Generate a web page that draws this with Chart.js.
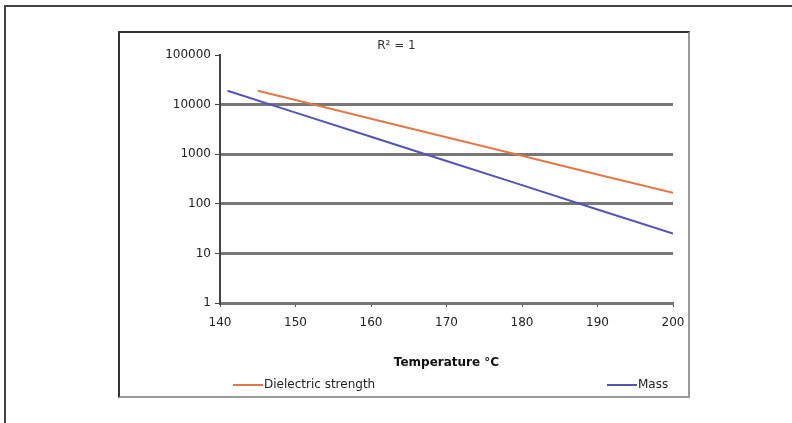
<!DOCTYPE html>
<html>
<head>
<meta charset="utf-8">
<script src="https://cdn.jsdelivr.net/npm/chart.js@4"></script>
<style>
  html, body { margin: 0; padding: 0; background: #fff; }
  body { width: 792px; height: 423px; position: relative; overflow: hidden; font-family: "DejaVu Sans", sans-serif; }
  #frame { position: absolute; left: 4px; top: 5px; right: 0; bottom: 0; border-top: 2px solid #444; border-left: 2px solid #444; }
  #box { position: absolute; left: 118px; top: 31px; width: 572px; height: 367px; box-sizing: border-box;
         border-top: 2px solid #333; border-left: 2px solid #333; border-right: 2px solid #999; border-bottom: 2px solid #999; }
  #holder { position: absolute; left: 0; top: 0; width: 568px; height: 363px; }
  .leg { position: absolute; top: 344px; font-size: 12px; color: #222; white-space: nowrap; }
  .leg i { display: inline-block; width: 30px; height: 2px; vertical-align: middle; margin-right: 1px; }
</style>
</head>
<body>
<div id="frame"></div>
<div id="box">
  <div id="holder"><canvas id="lineChart"></canvas></div>
  <div class="leg" style="left:113px"><i style="background:#e07848"></i>Dielectric strength</div>
  <div class="leg" style="left:487px"><i style="background:#5454b4"></i>Mass</div>
</div>
<script>
var tempDielectric = [145, 150, 160, 170, 180, 190, 200];
var dielectric = [19000, 12400, 5200, 2200, 930, 390, 166];
var tempMass = [141, 150, 160, 170, 180, 190, 200];
var mass = [19000, 6900, 2250, 730, 238, 77, 25];
var yTicks = [1, 10, 100, 1000, 10000, 100000];
var xTicks = [140, 150, 160, 170, 180, 190, 200];

function toPoints(xs, ys) {
    return xs.map(function (x, i) { return { x: x, y: ys[i] }; });
}

Chart.defaults.font.family = '"DejaVu Sans", sans-serif';
Chart.defaults.font.size = 12;
Chart.defaults.color = '#222';

var ctx = document.getElementById("lineChart");
var lineChart = new Chart(ctx, {
    type: 'scatter',
    data: {
        datasets: [{
            label: 'Dielectric strength',
            data: toPoints(tempDielectric, dielectric),
            showLine: true,
            borderColor: '#e07848',
            borderWidth: 2,
            pointRadius: 0,
            tension: 0,
        }, {
            label: 'Mass',
            data: toPoints(tempMass, mass),
            showLine: true,
            borderColor: '#5454b4',
            borderWidth: 2,
            pointRadius: 0,
            tension: 0,
        }],
    },
    options: {
        responsive: true,
        maintainAspectRatio: false,
        animation: false,
        layout: {
            padding: { left: 0, right: 15, top: 0, bottom: 23 }
        },
        plugins: {
            legend: { display: false },
            tooltip: { enabled: false },
            title: {
                display: true,
                text: 'R² = 1',
                color: '#333',
                font: { size: 12, weight: 'normal' },
                padding: { top: 6, bottom: 1.6 },
            },
        },
        scales: {
            x: {
                type: 'linear',
                min: 140,
                max: 200,
                afterBuildTicks: function (s) { s.ticks = xTicks.map(function (v) { return { value: v }; }); },
                afterFit: function (s) { s.height = 70; s.paddingLeft = 0; s.paddingRight = 0; },
                ticks: { padding: 9, color: '#222' },
                grid: { drawOnChartArea: false, tickLength: 4, tickColor: '#555', tickWidth: 1 },
                border: { color: '#777', width: 3 },
                title: {
                    display: true,
                    text: 'Temperature °C',
                    color: '#111',
                    font: { size: 12, weight: 'bold' },
                    padding: { top: 0, bottom: 3 },
                },
            },
            y: {
                type: 'logarithmic',
                min: 1,
                max: 100000,
                afterBuildTicks: function (s) { s.ticks = yTicks.map(function (v) { return { value: v }; }); },
                afterFit: function (s) { s.width = 100; s.paddingTop = 0; s.paddingBottom = 0; },
                ticks: {
                    padding: 4,
                    color: '#222',
                    callback: function (v) { return String(v); },
                },
                grid: {
                    color: function (c) { return c.tick && c.tick.value === 100000 ? 'rgba(0,0,0,0)' : '#777'; },
                    lineWidth: 3,
                    tickLength: 5,
                    tickColor: '#444',
                    tickWidth: 1,
                },
                border: { color: '#444', width: 2 },
            },
        },
    },
});
</script>
</body>
</html>
